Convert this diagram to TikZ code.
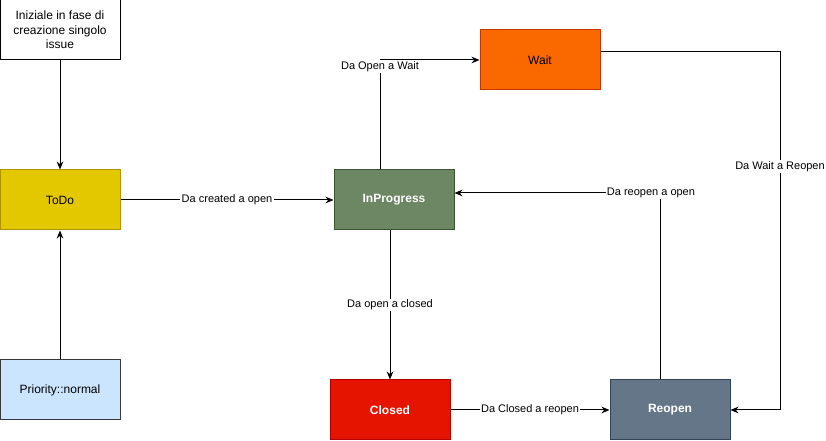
\documentclass[tikz,border=0pt]{standalone}
\usepackage{fontspec}
\setmainfont{Liberation Sans}
\usetikzlibrary{arrows.meta}
\definecolor{todofill}{HTML}{E3C800}
\definecolor{todoline}{HTML}{B09500}
\definecolor{priofill}{HTML}{CCE5FF}
\definecolor{prioline}{HTML}{36393D}
\definecolor{progfill}{HTML}{6D8764}
\definecolor{progline}{HTML}{3A5431}
\definecolor{waitfill}{HTML}{FA6800}
\definecolor{waitline}{HTML}{C73500}
\definecolor{closefill}{HTML}{E51400}
\definecolor{closeline}{HTML}{B20000}
\definecolor{reopfill}{HTML}{647687}
\definecolor{reopline}{HTML}{314354}
\begin{document}
\begin{tikzpicture}[x=0.75pt, y=-0.75pt, >={Stealth[length=6pt,width=5pt]},
        statebox/.style={draw, rectangle, line width=0.75pt, minimum width=90pt, minimum height=45pt, font=\fontsize{9}{11}\selectfont},
        edgelabel/.style={fill=white, inner sep=1pt, font=\fontsize{8.25}{10}\selectfont},
        conn/.style={->, line width=0.75pt}]
        \useasboundingbox (0,0) rectangle (826,441);
        % stati del workflow
        \node[statebox, fill=white, align=center] (init) at (60,30) {Iniziale in fase di\\creazione singolo\\issue};
        \node[statebox, fill=todofill, draw=todoline] (todo) at (60,200) {ToDo};
        \node[statebox, fill=priofill, draw=prioline] (prio) at (60,390) {Priority::normal};
        \node[statebox, fill=progfill, draw=progline, text=white, font=\fontsize{9}{11}\selectfont\bfseries] (inprog) at (394,200) {InProgress};
        \node[statebox, fill=waitfill, draw=waitline] (wait) at (540,60) {Wait};
        \node[statebox, fill=closefill, draw=closeline, text=white, font=\fontsize{9}{11}\selectfont\bfseries] (closed) at (390,410) {Closed};
        \node[statebox, fill=reopfill, draw=reopline, text=white, font=\fontsize{9}{11}\selectfont\bfseries] (reopen) at (670,410) {Reopen};
        \coordinate (wr) at (780,52);

        % transizioni
        \draw[conn] (init) -- (todo);
        \draw[conn] (prio) -- (todo);
        \draw[conn] (todo) -- node[edgelabel] {Da created a open} (inprog);
        \draw[conn] ([xshift=-10.5pt]inprog.north) |- node[edgelabel, pos=0.47] {Da Open a Wait} (wait.west);
        \draw[conn] (closed.north |- inprog.south) -- node[edgelabel, pos=0.5] {Da open a closed} (closed.north);
        \draw[conn] (closed) -- node[edgelabel] {Da Closed a reopen} (reopen);
        \draw[conn] ([xshift=-7.5pt]reopen.north) |- node[edgelabel, pos=0.522] {Da reopen a open} ([yshift=5.25pt]inprog.east);
        \draw[conn] ([yshift=6pt]wait.east) -- (wr) |- node[edgelabel, pos=0.16] {Da Wait a Reopen} (reopen.east);
    \end{tikzpicture}
\end{document}
